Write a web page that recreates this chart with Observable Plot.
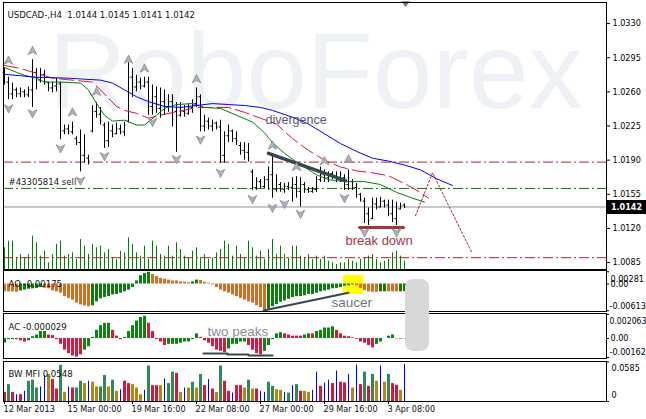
<!DOCTYPE html>
<html>
<head>
<meta charset="utf-8">
<script src="https://cdn.jsdelivr.net/npm/d3@7"></script>
<script src="https://cdn.jsdelivr.net/npm/@observablehq/plot@0.6"></script>
<style>
  html, body { margin: 0; padding: 0; background: #fff; }
  #chart { position: relative; width: 646px; height: 419px; background: #fff; overflow: hidden; }
  #chart svg { position: absolute; left: 0; }
</style>
</head>
<body>
<div id="chart"></div>
<script>
// ================= DATA =================
const symbolName = "USDCAD-,H4";
const watermarkText = "RoboForex";

const openP = [1.0280,1.0270,1.0258,1.0262,1.0258,1.0260,1.0257,1.0262,1.0280,1.0272,
1.0278,1.0270,1.0264,1.0266,1.0268,1.0220,1.0222,1.0219,1.0212,1.0208,
1.0195,1.0192,1.0220,1.0240,1.0237,1.0226,1.0210,1.0220,1.0217,1.0222,
1.0219,1.0230,1.0275,1.0265,1.0270,1.0266,1.0270,1.0245,1.0255,1.0243,
1.0250,1.0245,1.0250,1.0240,1.0236,1.0240,1.0238,1.0244,1.0248,1.0255,
1.0225,1.0230,1.0225,1.0228,1.0224,1.0195,1.0215,1.0220,1.0212,1.0205,
1.0200,1.0198,1.0178,1.0162,1.0168,1.0163,1.0170,1.0175,1.0160,1.0165,
1.0160,1.0163,1.0162,1.0165,1.0158,1.0165,1.0160,1.0158,1.0160,1.0170,
1.0175,1.0172,1.0176,1.0173,1.0170,1.0172,1.0165,1.0168,1.0162,1.0155,
1.0148,1.0135,1.0130,1.0145,1.0142,1.0148,1.0144,1.0135,1.0130,1.0140,
1.0144];
const highP = [1.0284,1.0275,1.0269,1.0264,1.0264,1.0262,1.0265,1.0293,1.0284,1.0284,
1.0282,1.0270,1.0270,1.0274,1.0270,1.0226,1.0226,1.0229,1.0214,1.0221,
1.0216,1.0195,1.0246,1.0249,1.0244,1.0228,1.0229,1.0226,1.0228,1.0226,
1.0229,1.0290,1.0284,1.0277,1.0274,1.0275,1.0275,1.0267,1.0265,1.0264,
1.0262,1.0257,1.0257,1.0249,1.0249,1.0246,1.0248,1.0252,1.0264,1.0257,
1.0236,1.0233,1.0231,1.0229,1.0231,1.0219,1.0226,1.0221,1.0219,1.0208,
1.0208,1.0207,1.0180,1.0172,1.0170,1.0173,1.0183,1.0195,1.0175,1.0167,
1.0166,1.0167,1.0172,1.0173,1.0172,1.0167,1.0162,1.0162,1.0173,1.0183,
1.0180,1.0178,1.0178,1.0178,1.0178,1.0175,1.0180,1.0170,1.0166,1.0156,
1.0151,1.0141,1.0151,1.0151,1.0152,1.0149,1.0149,1.0149,1.0147,1.0146,
1.0145];
const lowP = [1.0267,1.0252,1.0252,1.0254,1.0254,1.0254,1.0254,1.0244,1.0262,1.0269,
1.0267,1.0260,1.0259,1.0260,1.0211,1.0216,1.0216,1.0216,1.0205,1.0178,
1.0187,1.0185,1.0218,1.0233,1.0226,1.0202,1.0203,1.0213,1.0216,1.0216,
1.0214,1.0228,1.0254,1.0260,1.0262,1.0264,1.0236,1.0236,1.0238,1.0233,
1.0236,1.0239,1.0224,1.0198,1.0234,1.0234,1.0236,1.0238,1.0244,1.0219,
1.0219,1.0221,1.0219,1.0221,1.0187,1.0187,1.0208,1.0208,1.0205,1.0195,
1.0190,1.0188,1.0159,1.0159,1.0161,1.0161,1.0159,1.0151,1.0157,1.0157,
1.0156,1.0159,1.0147,1.0151,1.0142,1.0156,1.0156,1.0156,1.0157,1.0167,
1.0167,1.0167,1.0170,1.0167,1.0167,1.0159,1.0159,1.0159,1.0151,1.0147,
1.0125,1.0123,1.0129,1.0139,1.0141,1.0141,1.0132,1.0126,1.0123,1.0139,
1.0141];
const closeP = [1.0270,1.0258,1.0262,1.0258,1.0260,1.0257,1.0262,1.0280,1.0272,1.0278,
1.0270,1.0264,1.0266,1.0268,1.0220,1.0222,1.0219,1.0224,1.0208,1.0195,
1.0200,1.0189,1.0240,1.0237,1.0230,1.0210,1.0220,1.0217,1.0222,1.0219,
1.0226,1.0275,1.0265,1.0270,1.0266,1.0270,1.0245,1.0255,1.0243,1.0250,
1.0245,1.0250,1.0232,1.0236,1.0240,1.0238,1.0244,1.0246,1.0255,1.0225,
1.0230,1.0225,1.0228,1.0224,1.0195,1.0215,1.0220,1.0212,1.0210,1.0200,
1.0198,1.0192,1.0162,1.0168,1.0163,1.0170,1.0175,1.0160,1.0170,1.0160,
1.0163,1.0162,1.0165,1.0158,1.0165,1.0160,1.0158,1.0160,1.0170,1.0175,
1.0172,1.0176,1.0173,1.0170,1.0176,1.0165,1.0172,1.0162,1.0155,1.0150,
1.0135,1.0128,1.0145,1.0142,1.0148,1.0144,1.0135,1.0130,1.0140,1.0143,
1.0142];
const volume = [650,850,850,350,450,350,450,1000,800,400,
550,200,450,750,850,400,450,500,300,900,
700,450,750,650,700,500,600,350,300,550,
500,950,750,500,400,700,300,850,700,450,
400,700,400,800,600,400,350,550,650,350,
450,300,350,500,600,850,750,400,700,450,
350,850,650,400,550,300,600,900,450,700,
450,350,700,700,400,350,450,300,400,300,
400,250,200,150,200,200,300,250,200,300,
350,400,450,300,200,250,300,500,550,400,
250];

// Alligator lines (bar index, price)
const jawIdx = [0,8,16,24,27,30,33,36,40,44,48,52,56,60,64,67,72,76,80,84,88,92,96,100,104,108,112];
const jawVal = [1.0278,1.0275,1.0274,1.0272,1.0269,1.0262,1.0255,1.0250,1.0245,1.0244,1.0246,1.0248,1.0247,1.0246,1.0244,1.0241,1.0234,1.0227,1.0217,1.0207,1.0199,1.0192,1.0189,1.0185,1.0180,1.0171,1.0164];
const teethIdx = [0,4,12,22,24,28,30,33,36,40,48,56,60,64,68,72,76,80,84,88,92,96,100,104,106];
const teethVal = [1.0287,1.0284,1.0274,1.0270,1.0262,1.0245,1.0241,1.0238,1.0233,1.0237,1.0244,1.0244,1.0239,1.0233,1.0227,1.0212,1.0200,1.0190,1.0183,1.0179,1.0177,1.0174,1.0166,1.0157,1.0151];
const lipsIdx = [0,3,5,8,10,14,19,21,23,25,27,30,33,35,38,40,43,47,50,54,58,62,65,67,70,73,78,81,85,90,94,98,102,105];
const lipsVal = [1.0285,1.0280,1.0277,1.0274,1.0270,1.0270,1.0269,1.0262,1.0248,1.0236,1.0230,1.0231,1.0226,1.0226,1.0236,1.0243,1.0247,1.0248,1.0244,1.0243,1.0236,1.0229,1.0218,1.0208,1.0197,1.0188,1.0175,1.0170,1.0168,1.0168,1.0165,1.0157,1.0151,1.0147];

// Fractals
const fracUpIdx = [1,7,17,23,31,35,48,67,73,80,86];
const fracUpVal = [1.0292,1.0302,1.0239,1.0260,1.0293,1.0284,1.0273,1.0205,1.0183,1.0189,1.0191];
const fracDnIdx = [1,7,14,19,25,37,43,49,54,62,67,70,74,85,90,98];
const fracDnVal = [1.0243,1.0238,1.0202,1.0169,1.0194,1.0229,1.0191,1.0211,1.0177,1.0150,1.0141,1.0145,1.0135,1.0151,1.0116,1.0116];

// Horizontal levels
const redLevels = [1.0188, 1.0090];
const orderLevel = 1.0161;
const orderText = "#43305814 sell";
const priceTicks = [1.0330, 1.0295, 1.0260, 1.0225, 1.0190, 1.0155, 1.0120, 1.0085];

// Drawn annotations (bar index, price/value)
const divergenceIdx = [66, 85.25], divergenceVal = [1.0197, 1.0169];
const breakIdx = [88.75, 99.75], breakVal = [1.0121, 1.0121];
const forecastIdx = [102.75, 107, 116.75], forecastVal = [1.0133, 1.0177, 1.0096];
const mainNotes = [{text: "divergence", i: 65.25, v: 1.0231}, {text: "break down", i: 85.25, v: 1.0107}];

// Awesome Oscillator
const aoVals = [-0.0018,-0.0018,-0.0018,-0.0019,-0.0016,-0.0014,-0.0012,-0.0011,-0.0010,-0.0008,
-0.0010,-0.0011,-0.0016,-0.0018,-0.0021,-0.0029,-0.0033,-0.0037,-0.0044,-0.0048,
-0.0050,-0.0052,-0.0050,-0.0041,-0.0034,-0.0031,-0.0029,-0.0025,-0.0024,-0.0021,
-0.0018,-0.0014,-0.0008,0.0007,0.0019,0.0024,0.0027,0.0022,0.0017,0.0013,
0.0011,0.0009,0.0007,0.0007,0.0005,0.0004,0.0003,0.0005,0.0009,0.0008,
0.0004,0.0002,-0.0002,-0.0008,-0.0014,-0.0018,-0.0021,-0.0025,-0.0029,-0.0033,
-0.0037,-0.0041,-0.0044,-0.0050,-0.0054,-0.0060,-0.0058,-0.0052,-0.0047,-0.0042,
-0.0039,-0.0035,-0.0031,-0.0029,-0.0029,-0.0027,-0.0024,-0.0024,-0.0021,-0.0018,
-0.0016,-0.0014,-0.0011,-0.0010,-0.0008,-0.0005,-0.0004,-0.0002,-0.0004,-0.0010,
-0.0015,-0.0018,-0.0019,-0.0019,-0.0018,-0.0018,-0.0018,-0.0018,-0.0018,-0.0018,
-0.00175];
const aoColors = ["oooo","gggggg","oooooooooooo","ggggggggggggggg","oooooooooo","gg",
  "ooooooooooooooooo","gggggggggggggggggggggg","oooooo","gg","ooo","gg"].join("");
const aoTickVals = [0.00281, 0, -0.00613];
const aoTickLabels = ["0.00281", "0.00", "-0.00613"];
const saucerIdx = [64.75, 86], saucerVal = [-0.0061, -0.0020];
const saucerBox = {i1: 84.75, i2: 89.75, v1: 0.0020, v2: -0.0024};
const aoNote = {text: "saucer", i: 81.75, v: -0.00424};

// Accelerator Oscillator
const acVals = [-0.0004,-0.0001,-0.0001,-0.0001,-0.0002,-0.0003,-0.0002,0.00015,0.0003,0.0006,
0.0006,0.0003,0.00025,-0.0001,-0.0005,-0.0010,-0.0013,-0.0015,-0.0016,-0.0014,
-0.0010,-0.0007,0.0001,0.0007,0.0011,0.0013,0.0013,0.0007,0.0002,-0.0001,
0.0001,0.0006,0.0011,0.0015,0.0018,0.0019,0.0013,0.0006,-0.0001,-0.0003,
-0.0006,-0.0005,-0.0005,-0.0005,-0.0004,-0.0003,-0.0003,-0.0001,0.0004,0.0001,
-0.0002,-0.0004,-0.0007,-0.0010,-0.0011,-0.0012,-0.0009,-0.0005,-0.0005,-0.0003,
-0.0003,-0.0006,-0.0010,-0.0013,-0.0014,-0.0011,-0.0006,-0.0001,0.0004,0.0005,
0.0004,0.0003,0.0002,0.0002,0.0002,0.0003,0.0004,0.0004,0.0006,0.0007,
0.0009,0.0009,0.0010,0.0007,0.0004,0.0002,0.00015,0.00006,-0.00006,-0.0003,
-0.0004,-0.0006,-0.0008,-0.0005,-0.0003,0.0000,0.0002,0.0003,-0.00003,-0.00005,
-0.000029];
const acColors = ["gggg","rr","ggggg","rrrrrrrrr","ggggggg","rrr","gggggg","rrrrr","gggggggg","rrrrrrr",
  "ggggg","rrrr","ggggg","rrrrr","gg","r","ggggg","rrrrrrrrrr","ggggg","rrr"].join("");
const acTickVals = [0.002063, 0, -0.00162];
const acTickLabels = ["0.002063", "0.00", "-0.00162"];
const peaksIdx = [49.75, 55.75, 55.75, 61, 61, 67];
const peaksVal = [-0.00129, -0.00129, -0.00137, -0.00137, -0.00146, -0.00146];
const acNote = {text: "two peaks", i: 50.75, v: 0.0006};
const pauseBox = {i1: 100.25, i2: 106.25, v1: 0.00506, v2: -0.00111};

// Market Facilitation Index
const mfiVals = [0.0135,0.025,0.0135,0.010,0.010,0.015,0.030,0.0315,0.020,0.0215,
0.0385,0.040,0.0325,0.0185,0.0535,0.0135,0.0215,0.020,0.020,0.030,
0.0265,0.030,0.0285,0.0215,0.0215,0.0385,0.0215,0.0315,0.015,0.0175,
0.030,0.0265,0.025,0.020,0.010,0.0165,0.0525,0.0235,0.0235,0.0235,
0.0335,0.0265,0.0435,0.0415,0.0135,0.020,0.020,0.0285,0.020,0.040,
0.0235,0.0325,0.0185,0.0135,0.0525,0.030,0.015,0.0125,0.0235,0.0235,
0.020,0.0315,0.0185,0.0185,0.015,0.0135,0.0285,0.0225,0.0175,0.0165,
0.0135,0.0125,0.0235,0.025,0.015,0.015,0.0135,0.0165,0.0435,0.0225,
0.0275,0.0315,0.0265,0.045,0.0285,0.0275,0.040,0.020,0.054,0.025,
0.0435,0.0225,0.040,0.030,0.0525,0.0285,0.040,0.0265,0.024,0.0165,
0.0548];
const mfiColors = ["cscbcbsssb","byccsybcss","ybyyssysyb","ccyyybsccy","bsscybysys",
  "cbcysccbcc","ysycbbssyy","bsbscyybbc","bbcbccbybc","scsybysccy","b"].join("");
const mfiTickVals = [0.0585, 0];
const mfiTickLabels = ["0.0585", "0"];

// Time axis
const dateTickIdx = [0, 16, 32, 48, 64, 80, 96];
const dateLabels = ["12 Mar 2013", "15 Mar 00:00", "19 Mar 16:00", "22 Mar 08:00", "27 Mar 00:00", "29 Mar 16:00", "3 Apr 08:00"];

// ================= CHECKS =================
for (const [name, arr] of Object.entries({openP, highP, lowP, closeP, volume, aoVals, aoColors, acVals, acColors, mfiVals, mfiColors})) {
  if (arr.length !== 101) throw new Error(name + " length " + arr.length);
}

// ================= STYLE =================
const AXIS_FONT = "'DejaVu Sans Condensed', 'Liberation Sans', sans-serif";
const ARIAL = "'Liberation Sans', Arial, sans-serif";
const W = 646, ML = 3, MR = 40;
const xDomain = [-0.25, 150.5];
const aoColorMap = {o: "#db6c1f", g: "#0b7f0b"};
const acColorMap = {g: "#0a860a", r: "#e3143e"};
const mfiColorMap = {c: "#dc143c", s: "#2e8b57", y: "#b8860b", b: "#0000ff"};
const slate = "#36484d";

const bars = d3.range(openP.length).map(i => ({
  i, o: openP[i], h: highP[i], l: lowP[i], c: closeP[i], vol: volume[i],
  ao: aoVals[i], aoc: aoColorMap[aoColors[i]],
  ac: acVals[i], acc: acColorMap[acColors[i]],
  mfi: mfiVals[i], mfic: mfiColorMap[mfiColors[i]], blue: mfiColors[i] === "b"
}));
const last = bars[bars.length - 1];
const pts = (idx, val) => idx.map((i, k) => ({i, v: val[k]}));
const jaw = pts(jawIdx, jawVal), teeth = pts(teethIdx, teethVal), lips = pts(lipsIdx, lipsVal);
const fracUp = pts(fracUpIdx, fracUpVal), fracDn = pts(fracDnIdx, fracDnVal);

const arrow = k => ({draw(ctx, size) {
  const s = Math.sqrt(size / Math.PI);
  ctx.moveTo(0, -k * s);
  ctx.lineTo(0.95 * s, k * 0.8 * s);
  ctx.lineTo(0, k * 0.3 * s);
  ctx.lineTo(-0.95 * s, k * 0.8 * s);
  ctx.closePath();
}});
const arrowUp = arrow(1), arrowDown = arrow(-1);
const shiftMark = {draw(ctx, size) {
  const s = Math.sqrt(size / Math.PI);
  ctx.moveTo(-s, -0.5 * s); ctx.lineTo(s, -0.5 * s); ctx.lineTo(0, 0.8 * s); ctx.closePath();
}};

const chart = document.getElementById("chart");
function place(svg, top) { svg.style.top = top + "px"; chart.appendChild(svg); }

const baseStyle = {fontFamily: AXIS_FONT, fontSize: "9px", overflow: "visible"};

// ---- Volume (under main panel) ----
place(Plot.plot({
  width: W, height: 270, marginTop: 2, marginBottom: 1, marginLeft: ML, marginRight: MR,
  x: {domain: xDomain, axis: null},
  y: {domain: [0, 8000], axis: null},
  style: baseStyle,
  marks: [
    Plot.ruleX(bars, {x: "i", y1: 0, y2: "vol", stroke: "#008000", strokeWidth: 1})
  ]
}), 0);

// ---- Main price panel ----
place(Plot.plot({
  width: W, height: 270, marginTop: 2, marginBottom: 1, marginLeft: ML, marginRight: MR,
  x: {domain: xDomain, axis: null},
  y: {domain: [1.00779, 1.03516], axis: "right", ticks: priceTicks, tickFormat: d => d.toFixed(4), tickSize: 3, tickPadding: 3, label: null},
  style: {...baseStyle, background: "transparent"},
  marks: [
    Plot.text([watermarkText], {frameAnchor: "top-left", dx: 45, dy: 29, lineAnchor: "top", textAnchor: "start",
      fontSize: 108, fontFamily: ARIAL, fill: "#eef1f5"}),
    Plot.ruleY(redLevels, {stroke: "#a8282a", strokeDasharray: "10,3,2,3"}),
    Plot.ruleY([orderLevel], {stroke: "#008000", strokeDasharray: "10,3,2,3"}),
    Plot.ruleY([last.c], {stroke: "#8a939c"}),
    Plot.ruleX(bars, {x: "i", y1: "l", y2: "h", stroke: "#000"}),
    Plot.ruleY(bars, {y: "o", x1: d => d.i - 0.35, x2: "i", stroke: "#000"}),
    Plot.ruleY(bars, {y: "c", x1: "i", x2: d => d.i + 0.35, stroke: "#000"}),
    Plot.line(teeth, {x: "i", y: "v", stroke: "#e0103a", strokeWidth: 1, strokeDasharray: "14,5"}),
    Plot.line(lips, {x: "i", y: "v", stroke: "#008000", strokeWidth: 1}),
    Plot.line(jaw, {x: "i", y: "v", stroke: "#0000ff", strokeWidth: 1}),
    Plot.line(pts(divergenceIdx, divergenceVal), {x: "i", y: "v", stroke: slate, strokeWidth: 3.5}),
    Plot.line(pts(breakIdx, breakVal), {x: "i", y: "v", stroke: "#a33636", strokeWidth: 3}),
    Plot.line(pts(forecastIdx, forecastVal), {x: "i", y: "v", stroke: "#b0282a", strokeWidth: 1, strokeDasharray: "2,2"}),
    Plot.dot(fracUp, {x: "i", y: "v", symbol: arrowUp, r: 4.6, fill: "#aeb3bb", stroke: "#7b808a", strokeWidth: 0.7}),
    Plot.dot(fracDn, {x: "i", y: "v", symbol: arrowDown, r: 4.6, fill: "#aeb3bb", stroke: "#7b808a", strokeWidth: 0.7}),
    Plot.text([mainNotes[0]], {x: "i", y: "v", text: "text", textAnchor: "start", fontSize: 12.5, fontFamily: ARIAL, fill: "#585878"}),
    Plot.text([mainNotes[1]], {x: "i", y: "v", text: "text", textAnchor: "start", fontSize: 13, fontFamily: ARIAL, fill: "#a8384a"}),
    Plot.text([orderLevel], {y: d => d, text: () => orderText, frameAnchor: "left", dx: 5, dy: -6, textAnchor: "start", fontSize: 9.5, fill: "#222"}),
    Plot.text([`${symbolName}  ${last.o.toFixed(4)} ${last.h.toFixed(4)} ${last.l.toFixed(4)} ${last.c.toFixed(4)}`],
      {frameAnchor: "top-left", dx: 4, dy: 9, textAnchor: "start", fontSize: 9.5, fill: "#111"}),
    Plot.ruleY([last.c], {stroke: "#000", strokeWidth: 14, insetLeft: 604, insetRight: -40}),
    Plot.text([last.c], {y: d => d, text: d => d.toFixed(4), frameAnchor: "right", dx: 20, textAnchor: "middle", fill: "#fff", fontWeight: "bold", fontSize: 9}),
    Plot.dot([100.25], {x: d => d, frameAnchor: "top", dy: 1, symbol: shiftMark, r: 4.5, fill: "#737a84"}),
    Plot.frame({stroke: "#000"})
  ]
}), 0);

// ---- AO panel ----
place(Plot.plot({
  width: W, height: 42, marginTop: 0, marginBottom: 1, marginLeft: ML, marginRight: MR,
  x: {domain: xDomain, axis: null},
  y: {domain: [-0.00631, 0.0031], axis: null},
  color: {type: "identity"},
  style: baseStyle,
  marks: [
    Plot.rect([saucerBox], {x1: "i1", x2: "i2", y1: "v1", y2: "v2", fill: "#ffff00"}),
    Plot.ruleX(bars, {x: "i", y1: 0, y2: "ao", stroke: "aoc", strokeWidth: 3}),
    Plot.line(pts(saucerIdx, saucerVal), {x: "i", y: "v", stroke: slate, strokeWidth: 2}),
    Plot.text([aoNote], {x: "i", y: "v", text: "text", textAnchor: "start", fontSize: 13.5, fontFamily: ARIAL, fill: "#6c7784"}),
    Plot.text([`AO ${last.ao.toFixed(5)}`], {frameAnchor: "top-left", dx: 5, dy: 10, textAnchor: "start", fontSize: 9.5, fill: "#111"}),
    Plot.ruleY(aoTickVals, {stroke: "#000", insetLeft: 603, insetRight: -3}),
    Plot.text([0], {text: () => aoTickLabels[0], frameAnchor: "right", dx: 4, dy: 4, lineAnchor: "top", textAnchor: "start", y: () => aoTickVals[0]}),
    Plot.text([0], {text: () => aoTickLabels[1], frameAnchor: "right", dx: 4, textAnchor: "start", y: () => aoTickVals[1]}),
    Plot.text([0], {text: () => aoTickLabels[2], frameAnchor: "right", dx: 3, dy: -2, lineAnchor: "bottom", textAnchor: "start", y: () => aoTickVals[2]}),
    Plot.frame({stroke: "#000"})
  ]
}), 270);

// ---- AC panel ----
place(Plot.plot({
  width: W, height: 46, marginTop: 0, marginBottom: 1, marginLeft: ML, marginRight: MR,
  x: {domain: xDomain, axis: null},
  y: {domain: [-0.001714, 0.002142], axis: null},
  color: {type: "identity"},
  style: baseStyle,
  marks: [
    Plot.ruleX(bars, {x: "i", y1: 0, y2: "ac", stroke: "acc", strokeWidth: 3}),
    Plot.line(pts(peaksIdx, peaksVal), {x: "i", y: "v", stroke: slate, strokeWidth: 2}),
    Plot.text([acNote], {x: "i", y: "v", text: "text", textAnchor: "start", fontSize: 13.5, fontFamily: ARIAL, fill: "#8b8d9b"}),
    Plot.text([`AC ${last.ac.toFixed(6)}`], {frameAnchor: "top-left", dx: 5, dy: 10, textAnchor: "start", fontSize: 9.5, fill: "#111"}),
    Plot.ruleY(acTickVals, {stroke: "#000", insetLeft: 603, insetRight: -3}),
    Plot.text([0], {text: () => acTickLabels[0], frameAnchor: "right", dx: 3, dy: 3, lineAnchor: "top", textAnchor: "start", fontSize: 8.6, y: () => acTickVals[0]}),
    Plot.text([0], {text: () => acTickLabels[1], frameAnchor: "right", dx: 4, textAnchor: "start", y: () => acTickVals[1]}),
    Plot.text([0], {text: () => acTickLabels[2], frameAnchor: "right", dx: 3, dy: -2, lineAnchor: "bottom", textAnchor: "start", y: () => acTickVals[2]}),
    Plot.frame({stroke: "#000"}),
    Plot.rect([pauseBox], {x1: "i1", x2: "i2", y1: "v1", y2: "v2", fill: "#d8d8d8", rx: 8})
  ]
}), 313);

// ---- BW MFI panel + time axis ----
const dateTicks = dateTickIdx.map((i, k) => ({i, label: dateLabels[k]}));
place(Plot.plot({
  width: W, height: 59, marginTop: 1, marginBottom: 18, marginLeft: ML, marginRight: MR,
  x: {domain: xDomain, axis: null},
  y: {domain: [0, 0.0592], axis: null},
  color: {type: "identity"},
  style: baseStyle,
  marks: [
    Plot.ruleX(bars.filter(d => !d.blue), {x: "i", y1: 0, y2: "mfi", stroke: "mfic", strokeWidth: 3}),
    Plot.ruleX(bars.filter(d => d.blue), {x: "i", y1: 0, y2: "mfi", stroke: "mfic", strokeWidth: 1}),
    Plot.text([`BW MFI ${last.mfi.toFixed(4)}`], {frameAnchor: "top-left", dx: 5, dy: 9, textAnchor: "start", fontSize: 9.5, fill: "#111"}),
    Plot.ruleY(mfiTickVals, {stroke: "#000", insetLeft: 603, insetRight: -3}),
    Plot.text([0], {text: () => mfiTickLabels[0], frameAnchor: "right", dx: 5, dy: 3, lineAnchor: "top", textAnchor: "start", y: () => mfiTickVals[0]}),
    Plot.text([0], {text: () => mfiTickLabels[1], frameAnchor: "right", dx: 5, dy: -4, lineAnchor: "bottom", textAnchor: "start", y: () => mfiTickVals[1]}),
    Plot.ruleX(dateTicks, {x: "i", insetTop: 40, insetBottom: -3, stroke: "#000"}),
    Plot.text(dateTicks, {x: "i", text: "label", frameAnchor: "bottom", dy: 10, dx: -1, textAnchor: "start", fill: "#111"}),
    Plot.frame({stroke: "#000"})
  ]
}), 360);
</script>
</body>
</html>
